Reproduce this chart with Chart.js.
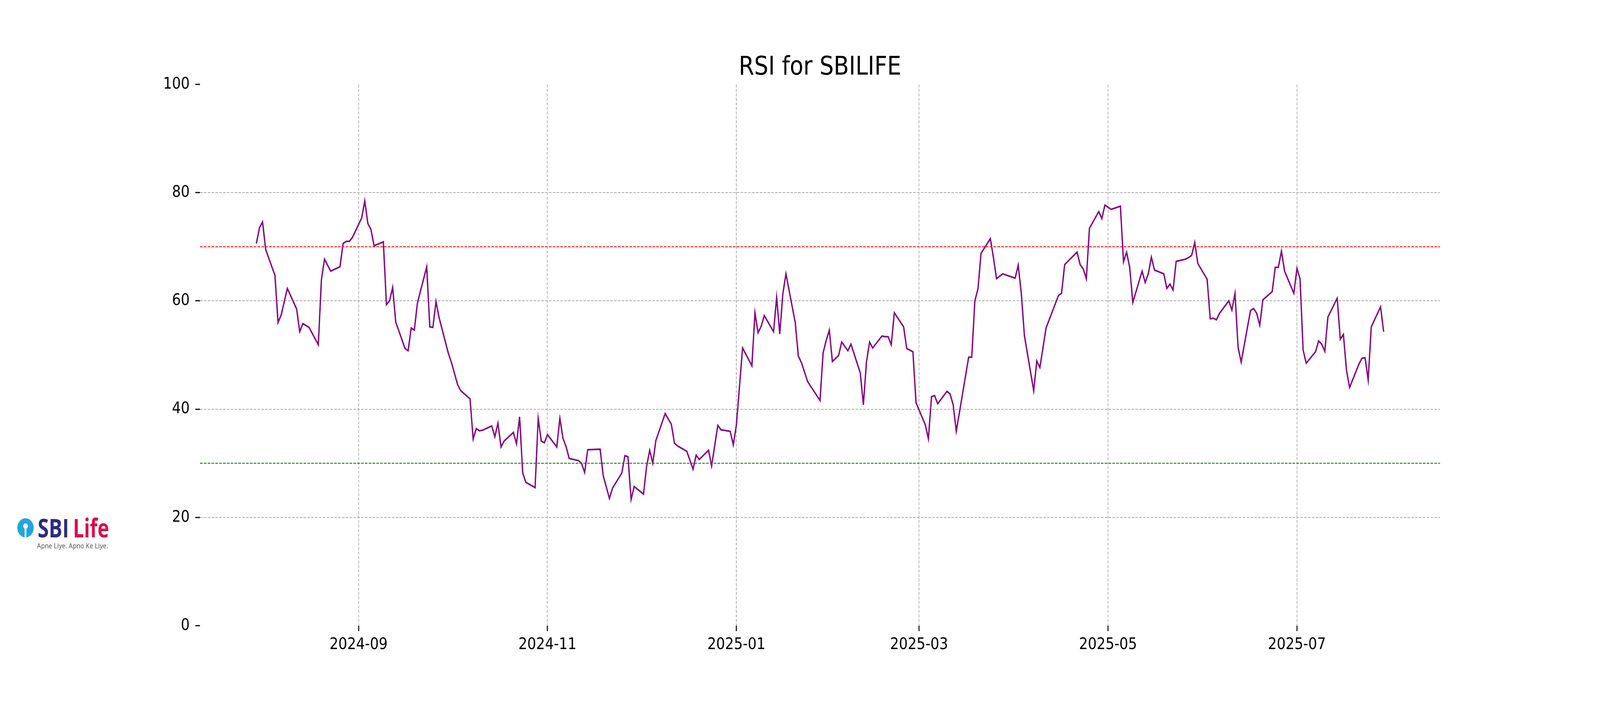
<!DOCTYPE html>
<html>
<head>
<meta charset="utf-8">
<title>RSI for SBILIFE</title>
<script src="https://cdn.jsdelivr.net/npm/chart.js@4.4.1/dist/chart.umd.min.js"></script>
<style>
  html, body { margin: 0; padding: 0; background: #fff; overflow: hidden; }
  canvas { display: block; }
</style>
</head>
<body>
<canvas id="rsiChart" width="4800" height="1800"></canvas>
<script>
// trading days and RSI values
const dates = [
  '2024-07-30','2024-07-31','2024-08-01','2024-08-02','2024-08-05','2024-08-06','2024-08-07','2024-08-09',
  '2024-08-12','2024-08-13','2024-08-14','2024-08-16','2024-08-19','2024-08-20','2024-08-21','2024-08-22',
  '2024-08-23','2024-08-26','2024-08-27','2024-08-28','2024-08-29','2024-08-30','2024-09-02','2024-09-03',
  '2024-09-04','2024-09-05','2024-09-06','2024-09-09','2024-09-10','2024-09-11','2024-09-12','2024-09-13',
  '2024-09-16','2024-09-17','2024-09-18','2024-09-19','2024-09-20','2024-09-23','2024-09-24','2024-09-25',
  '2024-09-26','2024-09-27','2024-09-30','2024-10-01','2024-10-03','2024-10-04','2024-10-07','2024-10-08',
  '2024-10-09','2024-10-10','2024-10-11','2024-10-14','2024-10-15','2024-10-16','2024-10-17','2024-10-18',
  '2024-10-21','2024-10-22','2024-10-23','2024-10-24','2024-10-25','2024-10-28','2024-10-29','2024-10-30',
  '2024-10-31','2024-11-01','2024-11-04','2024-11-05','2024-11-06','2024-11-07','2024-11-08','2024-11-11',
  '2024-11-12','2024-11-13','2024-11-14','2024-11-18','2024-11-19','2024-11-21','2024-11-22','2024-11-25',
  '2024-11-26','2024-11-27','2024-11-28','2024-11-29','2024-12-02','2024-12-03','2024-12-04','2024-12-05',
  '2024-12-06','2024-12-09','2024-12-10','2024-12-11','2024-12-12','2024-12-13','2024-12-16','2024-12-18',
  '2024-12-19','2024-12-20','2024-12-23','2024-12-24','2024-12-26','2024-12-27','2024-12-30','2024-12-31',
  '2025-01-01','2025-01-03','2025-01-06','2025-01-07','2025-01-08','2025-01-09','2025-01-10','2025-01-13',
  '2025-01-14','2025-01-15','2025-01-16','2025-01-17','2025-01-20','2025-01-21','2025-01-22','2025-01-24',
  '2025-01-28','2025-01-29','2025-01-30','2025-01-31','2025-02-01','2025-02-03','2025-02-04','2025-02-06',
  '2025-02-07','2025-02-10','2025-02-11','2025-02-12','2025-02-13','2025-02-14','2025-02-17','2025-02-18',
  '2025-02-19','2025-02-20','2025-02-21','2025-02-24','2025-02-25','2025-02-27','2025-02-28','2025-03-03',
  '2025-03-04','2025-03-05','2025-03-06','2025-03-07','2025-03-10','2025-03-11','2025-03-12','2025-03-13',
  '2025-03-17','2025-03-18','2025-03-19','2025-03-20','2025-03-21','2025-03-24','2025-03-25','2025-03-26',
  '2025-03-28','2025-04-01','2025-04-02','2025-04-03','2025-04-04','2025-04-07','2025-04-08','2025-04-09',
  '2025-04-11','2025-04-15','2025-04-16','2025-04-17','2025-04-21','2025-04-22','2025-04-23','2025-04-24',
  '2025-04-25','2025-04-28','2025-04-29','2025-04-30','2025-05-02','2025-05-05','2025-05-06','2025-05-07',
  '2025-05-08','2025-05-09','2025-05-12','2025-05-13','2025-05-14','2025-05-15','2025-05-16','2025-05-19',
  '2025-05-20','2025-05-21','2025-05-22','2025-05-23','2025-05-26','2025-05-27','2025-05-28','2025-05-29',
  '2025-05-30','2025-06-02','2025-06-03','2025-06-04','2025-06-05','2025-06-06','2025-06-09','2025-06-10',
  '2025-06-11','2025-06-12','2025-06-13','2025-06-16','2025-06-17','2025-06-18','2025-06-19','2025-06-20',
  '2025-06-23','2025-06-24','2025-06-25','2025-06-26','2025-06-27','2025-06-30','2025-07-01','2025-07-02',
  '2025-07-03','2025-07-04','2025-07-07','2025-07-08','2025-07-09','2025-07-10','2025-07-11','2025-07-14',
  '2025-07-15','2025-07-16','2025-07-17','2025-07-18','2025-07-21','2025-07-22','2025-07-23','2025-07-24',
  '2025-07-25','2025-07-28','2025-07-29'
];
const rsi = [
  70.6, 73.5, 74.6, 69.5, 64.7, 56.0, 57.4, 62.3,
  58.5, 54.3, 55.8, 55.1, 51.9, 63.9, 67.7, 66.6,
  65.5, 66.3, 70.6, 71.0, 71.0, 71.7, 75.3, 78.5,
  74.3, 73.2, 70.2, 70.9, 59.3, 60.0, 62.5, 56.1,
  51.2, 50.8, 55.0, 54.6, 59.6, 66.3, 55.2, 55.1,
  59.9, 56.9, 50.3, 48.6, 44.5, 43.4, 41.9, 34.5,
  36.4, 36.0, 36.1, 36.9, 34.9, 37.4, 33.0, 34.1,
  35.7, 33.6, 38.6, 28.2, 26.5, 25.5, 38.3, 34.1,
  33.8, 35.3, 33.0, 38.3, 34.6, 33.1, 30.9, 30.5,
  30.0, 28.3, 32.5, 32.6, 27.7, 23.5, 25.4, 28.2,
  31.4, 31.2, 23.3, 25.7, 24.3, 29.4, 32.4, 30.0,
  34.2, 39.2, 38.2, 37.2, 33.7, 33.2, 32.2, 28.9,
  31.5, 30.7, 32.4, 29.5, 37.0, 36.2, 35.9, 33.4,
  37.1, 51.3, 48.0, 57.8, 54.1, 55.3, 57.3, 54.3,
  60.7, 53.9, 61.3, 65.0, 56.0, 49.8, 48.6, 45.1,
  41.6, 50.4, 52.7, 54.6, 48.8, 49.9, 52.4, 50.8,
  52.0, 46.7, 40.8, 48.7, 52.4, 51.3, 53.5, 53.4,
  53.4, 51.9, 57.8, 55.2, 51.2, 50.6, 41.2, 37.1,
  34.5, 42.3, 42.5, 41.0, 43.3, 42.8, 40.8, 35.9,
  49.6, 49.6, 60.0, 62.2, 68.8, 71.5, 68.0, 64.1,
  65.0, 64.2, 66.6, 61.4, 53.6, 43.4, 48.9, 47.7,
  55.0, 61.0, 61.4, 66.7, 69.0, 66.7, 65.9, 64.1,
  73.4, 76.5, 75.2, 77.7, 76.9, 77.5, 67.2, 69.0,
  66.2, 59.7, 65.5, 63.4, 65.0, 68.1, 65.7, 65.0,
  62.3, 63.1, 62.0, 67.3, 67.7, 68.0, 68.4, 70.8,
  66.9, 64.0, 56.7, 56.8, 56.5, 57.7, 60.0, 58.3,
  61.4, 51.4, 48.7, 58.2, 58.6, 57.7, 55.5, 60.2,
  61.7, 66.2, 66.2, 69.2, 65.5, 61.4, 66.0, 64.1,
  50.9, 48.5, 50.6, 52.6, 52.0, 50.7, 57.0, 60.5,
  52.9, 53.8, 47.2, 44.0, 48.3, 49.4, 49.5, 45.4,
  55.2, 58.9, 54.3
];
const tickMonths = ['2024-09', '2024-11', '2025-01', '2025-03', '2025-05', '2025-07'];
const yTicks = [0, 20, 40, 60, 80, 100];
const overbought = 70;
const oversold = 30;
const titleText = 'RSI for SBILIFE';

const toMs = s => Date.parse(s + 'T00:00:00Z');
const fmtMonth = v => new Date(v).toISOString().slice(0, 7);

const t0 = toMs(dates[0]);
const t1 = toMs(dates[dates.length - 1]);
const xMin = t0 - 0.05 * (t1 - t0);
const xMax = t1 + 0.05 * (t1 - t0);

const rsiPoints = dates.map((d, i) => ({ x: toMs(d), y: rsi[i] }));
const hline = v => [{ x: xMin, y: v }, { x: xMax, y: v }];

// the bitmap is drawn at 4800x1800 and shown stretched over whatever viewport we get
const canvas = document.getElementById('rsiChart');
canvas.style.width = (document.documentElement.clientWidth || window.innerWidth || 4800) + 'px';
canvas.style.height = (document.documentElement.clientHeight || window.innerHeight || 1800) + 'px';

const FONT = '"DejaVu Sans", "Liberation Sans", sans-serif';

// title and logo drawn on the canvas
const decorPlugin = {
  id: 'decor',
  afterDraw(chart) {
    const { ctx, chartArea } = chart;
    ctx.save();
    ctx.fillStyle = '#000';
    ctx.font = '66.7px ' + FONT;
    ctx.textAlign = 'center';
    ctx.textBaseline = 'alphabetic';
    ctx.fillText(titleText, (chartArea.left + chartArea.right) / 2, chartArea.top - 25);

    // SBI Life logo
    ctx.fillStyle = '#21a5df';
    ctx.beginPath();
    ctx.arc(76.5, 1351.5, 24.5, 0, Math.PI * 2);
    ctx.fill();
    ctx.fillStyle = '#fff';
    ctx.beginPath();
    ctx.arc(76.5, 1347, 7, 0, Math.PI * 2);
    ctx.fill();
    ctx.fillRect(74, 1349, 5, 28);

    const fitText = (txt, x, y, w, size, weight, style) => {
      ctx.font = weight + ' ' + size + 'px "Open Sans", sans-serif';
      const m = ctx.measureText(txt).width;
      ctx.save();
      ctx.translate(x, y);
      ctx.scale(w / m, 1);
      ctx.fillStyle = style;
      ctx.textAlign = 'left';
      ctx.fillText(txt, 0, 0);
      ctx.restore();
    };
    fitText('SBI', 113, 1376, 94, 67, 'bold', '#2c2a7c');
    const g = ctx.createLinearGradient(219, 0, 327, 0);
    g.addColorStop(0, '#d6104a');
    g.addColorStop(0.45, '#c0154f');
    g.addColorStop(1, '#7b2468');
    fitText('Life', 219, 1376, 108, 67, 'bold', g);
    fitText('Apne Liye. Apno Ke Liye.', 111, 1404, 213, 19, 'normal', '#4a4a4a');
    ctx.restore();
  }
};

new Chart(canvas.getContext('2d'), {
  type: 'line',
  data: {
    datasets: [
      { label: 'Overbought', data: hline(overbought), borderColor: '#ff0000', borderWidth: 2.3,
        borderDash: [8, 3.5], pointRadius: 0 },
      { label: 'Oversold', data: hline(oversold), borderColor: '#008000', borderWidth: 2.3,
        borderDash: [8, 3.5], pointRadius: 0 },
      { label: 'RSI', data: rsiPoints, borderColor: '#800080', borderWidth: 4,
        pointRadius: 0, tension: 0 }
    ]
  },
  options: {
    responsive: false,
    devicePixelRatio: 1,
    animation: false,
    layout: { padding: { top: 216, right: 480, left: 0, bottom: 0 } },
    plugins: { legend: { display: false }, tooltip: { enabled: false }, title: { display: false } },
    scales: {
      x: {
        type: 'linear', min: xMin, max: xMax, bounds: 'data',
        afterFit: s => { s.height = 198; },
        afterBuildTicks: s => { s.ticks = tickMonths.map(m => ({ value: toMs(m + '-01') })); },
        ticks: {
          callback: v => fmtMonth(v),
          autoSkip: false, maxRotation: 0, minRotation: 0,
          color: '#000', padding: 10,
          font: { family: FONT, size: 41.7 }
        },
        grid: {
          color: '#aaaaaa', lineWidth: 2,
          drawTicks: true, tickLength: 14, tickWidth: 3, tickColor: '#000', tickBorderDash: []
        },
        border: { display: false, dash: [8, 3.5] }
      },
      y: {
        min: 0, max: 100,
        afterFit: s => { s.width = 600; },
        afterBuildTicks: s => { s.ticks = yTicks.map(v => ({ value: v })); },
        ticks: {
          color: '#000', padding: 17,
          font: { family: FONT, size: 41.7 }
        },
        grid: {
          color: c => (c.tick && (c.tick.value === 0 || c.tick.value === 100)) ? 'rgba(0,0,0,0)' : '#aaaaaa',
          lineWidth: 2,
          drawTicks: true, tickLength: 14, tickWidth: 3, tickColor: '#000', tickBorderDash: []
        },
        border: { display: false, dash: [8, 3.5] }
      }
    }
  },
  plugins: [decorPlugin]
});
</script>
</body>
</html>
